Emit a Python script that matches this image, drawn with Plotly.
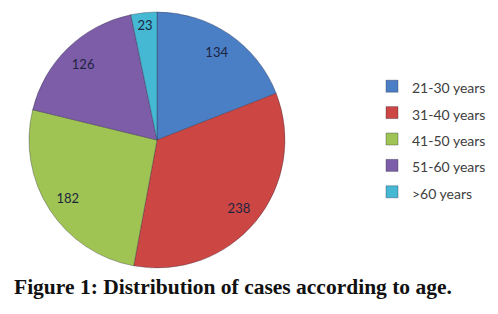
import plotly.graph_objects as go

categories = ["21-30 years", "31-40 years", "41-50 years", "51-60 years", ">60 years"]
values = [134, 238, 182, 126, 23]
colors = ["#4a7fc6", "#cc4644", "#a0c453", "#7d5ca8", "#45b8d4"]

W, H = 498, 314
OFF = 8  # page body margin offset
cx, cy, r = 157 - OFF, 140 - OFF, 128

legend_labels = ["<span style='font-size:14px'>%s</span>" % c for c in categories]
dom = dict(x=[(cx - r) / W, (cx + r) / W], y=[1 - (cy + r) / H, 1 - (cy - r) / H])

fig = go.Figure()
fig.add_trace(go.Pie(
    labels=legend_labels,
    values=values,
    sort=False,
    direction="clockwise",
    rotation=0,
    marker=dict(colors=colors, line=dict(color="rgba(40,40,60,0.35)", width=1)),
    textinfo="none",
    domain=dom,
    hoverinfo="label+value",
))
# label layer: same data, ring-shaped so values sit near the outer rim
fig.add_trace(go.Pie(
    labels=legend_labels,
    values=values,
    sort=False,
    direction="clockwise",
    rotation=0,
    hole=0.66,
    marker=dict(colors=["rgba(0,0,0,0)"] * len(values), line=dict(width=0)),
    textinfo="value",
    textposition="inside",
    insidetextorientation="horizontal",
    textfont=dict(family="Lato", size=13, color="#1c2540"),
    domain=dom,
    showlegend=False,
    hoverinfo="skip",
))

fig.update_layout(
    width=W, height=H,
    margin=dict(l=0, r=0, t=0, b=0),
    paper_bgcolor="white",
    showlegend=True,
    legend=dict(
        x=(392 - 20 - OFF) / W, xanchor="left",
        y=1 - (87 - 19 - OFF) / H, yanchor="top",
        font=dict(family="Lato", size=18, color="#404040"),
        bgcolor="rgba(0,0,0,0)",
    ),
    title=dict(
        text="<b>Figure 1: Distribution of cases according to age.</b>",
        font=dict(family="Liberation Serif", size=21.5, color="#111111"),
        x=(14 - OFF) / W, xanchor="left",
        y=1 - (286 - OFF) / H, yanchor="middle",
        xref="container", yref="container",
    ),
)

fig.write_html("out.html")
